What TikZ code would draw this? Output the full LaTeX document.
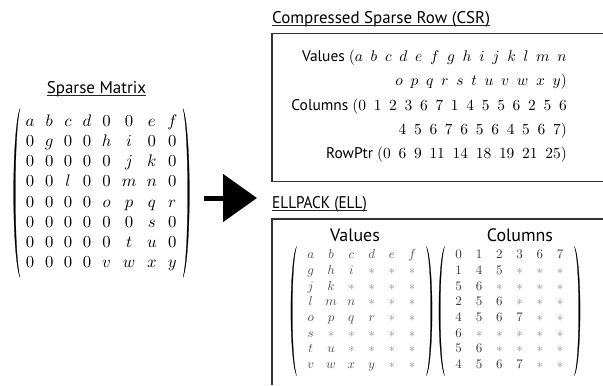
\documentclass[tikz,border=0pt]{standalone}
\usepackage{amsmath}
\usepackage{graphicx}
\usepackage{fontspec}
\newfontfamily\sfont{PT Sans}
\newfontfamily\sfontn[FakeStretch=0.9]{PT Sans}
\usetikzlibrary{matrix,arrows.meta,calc}
\newcommand{\gp}{\hspace{5pt}}
\newcommand{\ce}[1]{\scalebox{1.31}{$#1$}}
\newcommand{\stt}{\textcolor{black!45}{\scalebox{1.31}{$\ast$}}}
% parentheses drawn as filled crescents: #1 node name, #2 outer bulge, #3 inner bulge
\newcommand{\myParens}[3]{%
  \fill[parenfill] (#1.north west)
    .. controls ([xshift=-#2]$(#1.north west)!0.13!(#1.south west)$) and ([xshift=-#2]$(#1.north west)!0.87!(#1.south west)$) .. (#1.south west)
    .. controls ([xshift=-#3]$(#1.north west)!0.87!(#1.south west)$) and ([xshift=-#3]$(#1.north west)!0.13!(#1.south west)$) .. (#1.north west) -- cycle;
  \fill[parenfill] (#1.north east)
    .. controls ([xshift=#2]$(#1.north east)!0.13!(#1.south east)$) and ([xshift=#2]$(#1.north east)!0.87!(#1.south east)$) .. (#1.south east)
    .. controls ([xshift=#3]$(#1.north east)!0.87!(#1.south east)$) and ([xshift=#3]$(#1.north east)!0.13!(#1.south east)$) .. (#1.north east) -- cycle;}
\begin{document}
\begin{tikzpicture}[x=1bp,y=-1bp,
  title/.style={font=\sfont\fontsize{17}{20}\selectfont, inner sep=0pt, anchor=base west},
  uline/.style={line width=1bp, black!85},
  box/.style={draw=black!80, line width=1.3bp},
  parenfill/.style={fill=black, draw=black, line width=0.25bp},
  csrline/.style={anchor=base east, inner sep=0pt},
  cell/.style={text width=12bp, align=center, inner sep=0pt,
     text height=8.5bp, text depth=3.3bp},
  ellmat/.style={matrix of nodes, nodes={cell}, column sep=8.3bp, row sep=3.9bp,
     inner xsep=8bp, inner ysep=3.5bp},
  bigarrow/.style={line width=5bp, -{Triangle[length=34bp,width=47bp]}}
]
\useasboundingbox (0,0) rectangle (603,385);

% ---- Sparse matrix ----
\node[title, anchor=base] (tsm) at (96.5,93) {Sparse Matrix};
\draw[uline] ([yshift=-2.5bp]tsm.base west) -- ([yshift=-2.5bp]tsm.base east);
\node[inner xsep=5.5bp, inner ysep=4bp] (smat) at (101.5,193) {\scalebox{1.68}{\fontsize{10}{12}\selectfont
$\setlength\arraycolsep{3.1pt}\renewcommand{\arraystretch}{1}\begin{matrix}
a & b & c & d & 0 & 0 & e & f\\
0 & g & 0 & 0 & h & i & 0 & 0\\
0 & 0 & 0 & 0 & 0 & j & k & 0\\
0 & 0 & l & 0 & 0 & m & n & 0\\
0 & 0 & 0 & 0 & o & p & q & r\\
0 & 0 & 0 & 0 & 0 & 0 & s & 0\\
0 & 0 & 0 & 0 & 0 & t & u & 0\\
0 & 0 & 0 & 0 & v & w & x & y
\end{matrix}$}};
\myParens{smat}{8.5bp}{6.3bp}

% ---- big arrow ----
\coordinate (arS) at (204,198);
\coordinate (arE) at (257,198);
\draw[bigarrow] (arS) -- (arE);

% ---- CSR ----
\node[title] (tcsr) at (272,23) {Compressed Sparse Row (CSR)};
\draw[uline] ([yshift=-2.5bp]tcsr.base west) -- ([yshift=-2.5bp]tcsr.base east);
\draw[box] (603,33.5) -| (272,181.5) -- (603,181.5);
\node[csrline] (c1) at (567,61.5) {{\sfont\fontsize{15.5}{18}\selectfont Values}\hspace{4bp}\scalebox{1.55}{$(a\gp b\gp c\gp d\gp e\gp f\gp g\gp h\gp i\gp j\gp k\gp l\gp m\gp n$}};
\node[csrline] (c2) at (567,85) {\scalebox{1.55}{$o\gp p\gp q\gp r\gp s\gp t\gp u\gp v\gp w\gp x\gp y)$}};
\node[csrline] (c3) at (567,110.5) {{\sfont\fontsize{15.5}{18}\selectfont Columns}\hspace{4bp}\scalebox{1.55}{$(0\gp 1\gp 2\gp 3\gp 6\gp 7\gp 1\gp 4\gp 5\gp 5\gp 6\gp 2\gp 5\gp 6$}};
\node[csrline] (c4) at (567,134) {\scalebox{1.55}{$4\gp 5\gp 6\gp 7\gp 6\gp 5\gp 6\gp 4\gp 5\gp 6\gp 7)$}};
\node[csrline] (c5) at (567,158.5) {{\sfont\fontsize{15.5}{18}\selectfont RowPtr}\hspace{4bp}\scalebox{1.55}{$(0\gp 6\gp 9\gp 11\gp 14\gp 18\gp 19\gp 21\gp 25)$}};

% ---- ELL ----
\node[title, font=\sfontn\fontsize{17}{20}\selectfont] (tell) at (272,208) {ELLPACK (ELL)};
\draw[uline] ([yshift=-2.5bp]tell.base west) -- ([yshift=-2.5bp]tell.base east);
\draw[box] (603,219) -| (272,385);
\node[font=\sfont\fontsize{18}{22}\selectfont, inner sep=0pt, anchor=base] (lv) at (355,241) {Values};
\node[font=\sfont\fontsize{18}{22}\selectfont, inner sep=0pt, anchor=base] (lc) at (520,241) {Columns};

\matrix (mv) [ellmat, nodes={text=black!70}] at (361.5,311) {
\ce a & \ce b & \ce c & \ce d & \ce e & \ce f \\
\ce g & \ce h & \ce i & \stt & \stt & \stt \\
\ce j & \ce k & \stt & \stt & \stt & \stt \\
\ce l & \ce m & \ce n & \stt & \stt & \stt \\
\ce o & \ce p & \ce q & \ce r & \stt & \stt \\
\ce s & \stt & \stt & \stt & \stt & \stt \\
\ce t & \ce u & \stt & \stt & \stt & \stt \\
\ce v & \ce w & \ce x & \ce y & \stt & \stt \\
};
\myParens{mv}{7.5bp}{5.7bp}
\matrix (mc) [ellmat, nodes={text=black!78}] at (509.5,311) {
\ce 0 & \ce 1 & \ce 2 & \ce 3 & \ce 6 & \ce 7 \\
\ce 1 & \ce 4 & \ce 5 & \stt & \stt & \stt \\
\ce 5 & \ce 6 & \stt & \stt & \stt & \stt \\
\ce 2 & \ce 5 & \ce 6 & \stt & \stt & \stt \\
\ce 4 & \ce 5 & \ce 6 & \ce 7 & \stt & \stt \\
\ce 6 & \stt & \stt & \stt & \stt & \stt \\
\ce 5 & \ce 6 & \stt & \stt & \stt & \stt \\
\ce 4 & \ce 5 & \ce 6 & \ce 7 & \stt & \stt \\
};
\myParens{mc}{7.5bp}{5.7bp}
\end{tikzpicture}
\end{document}
